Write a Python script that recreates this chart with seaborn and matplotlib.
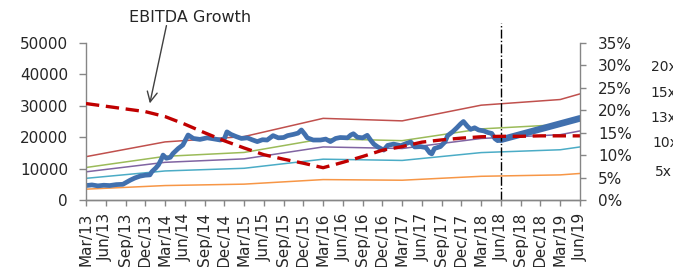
import numpy as np
import pandas as pd
import matplotlib
matplotlib.use("Agg")
import matplotlib.pyplot as plt
import seaborn as sns
from matplotlib.ticker import PercentFormatter

# months counted from Mar/13
quarter_labels = ['Mar/13', 'Jun/13', 'Sep/13', 'Dec/13', 'Mar/14', 'Jun/14', 'Sep/14', 'Dec/14',
                  'Mar/15', 'Jun/15', 'Sep/15', 'Dec/15', 'Mar/16', 'Jun/16', 'Sep/16', 'Dec/16',
                  'Mar/17', 'Jun/17', 'Sep/17', 'Dec/17', 'Mar/18', 'Jun/18', 'Sep/18', 'Dec/18',
                  'Mar/19', 'Jun/19']
quarter_months = [0, 3, 6, 9, 12, 15, 18, 21, 24, 27, 30, 33, 36, 39, 42, 45, 48, 51, 54, 57,
                  60, 63, 66, 69, 72, 75]

# share price
price_month = [0, 0.9, 1.8, 2.7, 3.6, 4.6, 5.6, 6.7, 7.4, 8.2, 9.0, 9.7, 10.0, 10.6, 11.0, 11.4,
               11.7, 12.2, 12.8, 13.2, 14.0, 14.7, 15.1, 15.5, 16.3, 17.3, 18.4, 19.3, 20.4, 21.0,
               21.4, 22.0, 22.8, 23.6, 24.5, 25.2, 26.0, 26.8, 27.5, 28.4, 29.2, 30.0, 30.6, 31.5,
               32.2, 32.7, 33.2, 33.6, 34.5, 35.6, 36.4, 37.1, 37.9, 38.6, 39.7, 40.2, 40.6, 41.2,
               42.0, 42.7, 43.2, 43.7, 44.3, 45.2, 45.8, 46.7, 47.8, 48.5, 49.3, 49.9, 50.8, 51.6,
               52.2, 52.5, 52.9, 53.8, 54.5, 54.9, 55.7, 56.3, 56.9, 57.3, 57.9, 58.4, 59.0, 59.6,
               60.4, 61.0, 61.6, 62.1, 62.5, 63.0]
price_value = [4600, 4800, 4500, 4700, 4600, 4900, 5000, 6300, 7000, 7600, 7900, 8000, 9000, 10200,
               11200, 12800, 14300, 13300, 13600, 14800, 16400, 17500, 19100, 20700, 19600, 19300,
               19800, 19500, 19100, 19500, 21700, 20900, 20200, 19600, 19800, 19200, 18600, 19200,
               19100, 20500, 19800, 19900, 20500, 20900, 21300, 22300, 21000, 19800, 19100, 19100,
               19400, 18600, 19600, 19900, 19800, 20700, 21100, 20000, 19800, 20600, 19100, 17800,
               16900, 15900, 17400, 17800, 17300, 17900, 18500, 16900, 17000, 16700, 15000, 14700,
               16400, 17000, 18500, 20500, 21800, 23000, 24300, 25000, 23500, 22500, 23000, 22300,
               22000, 21500, 21200, 19500, 18900, 19200]

# target price
target_month = [63, 75]
target_value = [19200, 26000]

# PE bands
band_month = [0, 12, 24, 36, 48, 60, 72, 75]
band_labels = ['20x', '15x', '13x', '10x', '5x']
band_20x = [13800, 18500, 20200, 26000, 25200, 30200, 32000, 33800]
band_15x = [10350, 13900, 15150, 19500, 18900, 22650, 24000, 25400]
band_13x = [8970, 12000, 13100, 16900, 16400, 19600, 20800, 22000]
band_10x = [6900, 9250, 10100, 13000, 12600, 15100, 16000, 16900]
band_5x = [3450, 4600, 5050, 6500, 6300, 7550, 8000, 8450]
band_colors = ['#C0504D', '#9BBB59', '#8064A2', '#4BACC6', '#F79646']

# EBITDA growth (right axis)
ebitda_month = quarter_months
ebitda_growth = [21.5, 20.9, 20.3, 19.7, 18.6, 16.9, 15.0, 13.2, 11.6, 10.1, 9.1, 8.2, 7.2, 8.4,
                 9.7, 11.1, 11.9, 12.9, 13.4, 13.8, 14.1, 14.2, 14.2, 14.3, 14.3, 14.3]

sns.set_style("ticks")
plt.rcParams['font.family'] = ['DejaVu Sans']
fs = 11

fig = plt.figure(figsize=(6.73, 2.67), dpi=100)
ax = fig.add_axes([86 / 673, 1 - 200 / 267, (580 - 86) / 673, 157 / 267])
ax2 = ax.twinx()

bands = [band_20x, band_15x, band_13x, band_10x, band_5x]
for vals, col in zip(bands, band_colors):
    sns.lineplot(x=band_month, y=vals, ax=ax, color=col, lw=1.1)

sns.lineplot(x=price_month, y=price_value, ax=ax, color='#4170AE', lw=3.4)
sns.lineplot(x=target_month, y=target_value, ax=ax, color='#4170AE', lw=4.8)

sns.lineplot(x=ebitda_month, y=np.array(ebitda_growth) / 100, ax=ax2, color='#C00000',
             lw=2.4, linestyle=(0, (4, 2)))

ax.axvline(63, ymin=0, ymax=1.13, color='black', lw=1, linestyle='-.', clip_on=False)

ax.set_xlim(0, 75)
ax.set_ylim(0, 50000)
ax2.set_ylim(0, 0.35)
ax.set_xticks(quarter_months)
ax.set_xticklabels(quarter_labels, rotation=90, fontsize=fs)
ax.set_yticks([0, 10000, 20000, 30000, 40000, 50000])
ax.set_yticklabels(['0', '10000', '20000', '30000', '40000', '50000'], fontsize=fs)
ax2.set_yticks([0, 0.05, 0.10, 0.15, 0.20, 0.25, 0.30, 0.35])
ax2.yaxis.set_major_formatter(PercentFormatter(1, decimals=0))
ax2.tick_params(axis='y', labelsize=fs)

for a in (ax, ax2):
    a.spines['top'].set_visible(False)
    for s in ('left', 'right', 'bottom'):
        a.spines[s].set_color('#868686')
        a.spines[s].set_linewidth(1)
    a.tick_params(color='#868686', width=1)
ax2.spines['left'].set_visible(False)
ax.spines['right'].set_visible(False)
ax.tick_params(axis='y', length=5, pad=8)
ax2.tick_params(axis='y', length=4, pad=9)
ax.tick_params(axis='x', length=4, pad=5)

# annotation
fig.text(190 / 673, 1 - 17 / 267, 'EBITDA Growth', fontsize=11.5, ha='center', va='center')
ax.annotate('', xy=(9.6, 29900), xytext=(12.3, 56400), xycoords='data',
            arrowprops=dict(arrowstyle='->', color='#404040', lw=1, mutation_scale=18),
            annotation_clip=False)

# multiple labels
label_x = [651, 650, 650, 652, 655]
label_y = [67, 93, 118, 143, 172]
for lab, xx, yy in zip(band_labels, label_x, label_y):
    fig.text(xx / 673, 1 - yy / 267, lab, fontsize=10, ha='left', va='center')

plt.savefig('out.png', dpi=100)
